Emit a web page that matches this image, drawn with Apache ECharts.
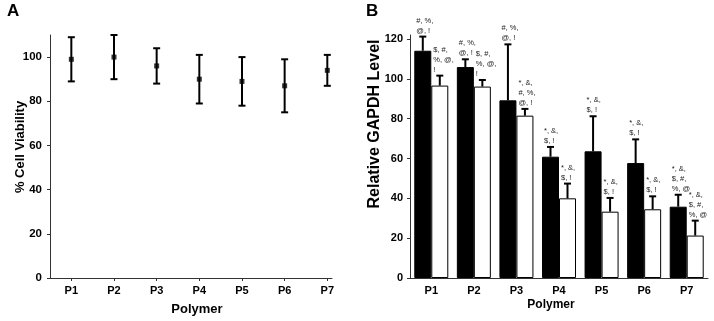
<!DOCTYPE html>
<html>
<head>
<meta charset="utf-8">
<script src="https://cdn.jsdelivr.net/npm/echarts@6/dist/echarts.min.js"></script>
<style>
  html, body { margin: 0; padding: 0; background: #fff; }
  #chart { width: 714px; height: 321px; }
</style>
</head>
<body>
<div id="chart"></div>
<script>
const FONT = '"Liberation Sans", Arial, sans-serif'

const polymers = ['P1', 'P2', 'P3', 'P4', 'P5', 'P6', 'P7']

// A: % cell viability, mean with lower / upper error limits
const viabilityMean = [99, 100, 96, 90, 89, 87, 94]
const viabilityLow = [89, 90, 88, 79, 78, 75, 87]
const viabilityHigh = [109, 110, 104, 101, 100, 99, 101]
const viabilityTicks = [0, 20, 40, 60, 80, 100]

// B: relative GAPDH level, black and white bars with upper error limits
const gapdhBlack = [114.1, 105.9, 89.2, 60.9, 63.6, 57.7, 35.8]
const gapdhBlackErr = [121.2, 109.8, 117.3, 65.8, 81.2, 69.6, 41.8]
const gapdhWhite = [96.6, 96.1, 81.5, 40.0, 33.3, 34.5, 21.3]
const gapdhWhiteErr = [101.6, 99.4, 84.9, 47.4, 40.2, 41.0, 28.8]
const gapdhTicks = [0, 20, 40, 60, 80, 100, 120]

// significance marks above each bar
const blackMarks = ['#, %,\n@, !', '#, %,\n@, !', '#, %,\n@, !', '*, &,\n$, !', '*, &,\n$, !', '*, &,\n$, !', '*, &,\n$, #,\n%, @']
const whiteMarks = ['$, #,\n%, @,\n!', '$, #,\n%, @,\n!', '*, &,\n#, %,\n@, !', '*, &,\n$, !', '*, &,\n$, !', '*, &,\n$, !', '*, &,\n$, #,\n%, @']

const BAR_W = 17

const chart = echarts.init(document.getElementById('chart'), null, { renderer: 'canvas' })

const axisLine = { lineStyle: { color: '#333', width: 1 } }
const labelStyle = { color: '#000', fontFamily: FONT, fontWeight: 'bold', fontSize: 11 }

/**
 * 误差线 (A 图): 竖线 + 上下横帽
 */
const viabilityErrors = {
  type: 'custom',
  xAxisIndex: 0,
  yAxisIndex: 0,
  clip: false,
  z: 3,
  data: polymers.map((p, i) => [i + 1, viabilityLow[i], viabilityHigh[i]]),
  renderItem: (params, api) => {
    const lo = api.coord([api.value(0), api.value(1)])
    const hi = api.coord([api.value(0), api.value(2)])
    const st = { stroke: '#000', lineWidth: 2 }
    return {
      type: 'group',
      children: [
        { type: 'line', shape: { x1: lo[0], y1: lo[1], x2: hi[0], y2: hi[1] }, style: st },
        { type: 'line', shape: { x1: lo[0] - 3.5, y1: lo[1], x2: lo[0] + 3.5, y2: lo[1] }, style: st },
        { type: 'line', shape: { x1: hi[0] - 3.5, y1: hi[1], x2: hi[0] + 3.5, y2: hi[1] }, style: st }
      ]
    }
  }
}

/**
 * B 图: 向上的误差线和标注文字
 */
const barErrors = (values, errs, marks, offset) => ({
  type: 'custom',
  xAxisIndex: 1,
  yAxisIndex: 1,
  clip: false,
  z: 5,
  data: polymers.map((p, i) => [i, values[i], errs[i]]),
  renderItem: (params, api) => {
    const base = api.coord([api.value(0), api.value(1)])
    const top = api.coord([api.value(0), api.value(2)])
    const x = base[0] + offset
    const st = { stroke: '#000', lineWidth: 2 }
    return {
      type: 'group',
      children: [
        { type: 'line', shape: { x1: x, y1: base[1], x2: x, y2: top[1] }, style: st },
        { type: 'line', shape: { x1: x - 3.5, y1: top[1], x2: x + 3.5, y2: top[1] }, style: st },
        {
          type: 'text',
          style: {
            text: marks[params.dataIndex],
            x: x - BAR_W / 2 + 2,
            y: top[1] - 1,
            align: 'left',
            verticalAlign: 'bottom',
            fontSize: 7.5,
            lineHeight: 10,
            fontFamily: FONT,
            fill: '#222'
          }
        }
      ]
    }
  }
})

const option = {
  animation: false,
  backgroundColor: '#fff',
  grid: [
    { left: 50, top: 35, width: 282, height: 243 },
    { left: 410, top: 35, width: 298, height: 243 }
  ],
  xAxis: [
    {
      gridIndex: 0,
      type: 'value',
      min: 0.5,
      max: 7.11,
      splitLine: { show: false },
      axisLine: { ...axisLine, onZero: false },
      axisTick: { show: true, length: 3, lineStyle: { color: '#333' }, customValues: polymers.map((p, i) => i + 1) },
      axisLabel: { ...labelStyle, margin: 7, customValues: polymers.map((p, i) => i + 1), formatter: v => polymers[v - 1] }
    },
    {
      gridIndex: 1,
      type: 'category',
      data: polymers,
      axisLine: axisLine,
      axisTick: { show: false },
      axisLabel: { ...labelStyle, margin: 7 }
    }
  ],
  yAxis: [
    {
      gridIndex: 0,
      type: 'value',
      min: 0,
      max: 110,
      splitLine: { show: false },
      axisLine: { show: true, ...axisLine },
      axisTick: { show: true, length: 3, lineStyle: { color: '#333' }, customValues: viabilityTicks },
      axisLabel: { ...labelStyle, fontSize: 11.5, margin: 8, customValues: viabilityTicks }
    },
    {
      gridIndex: 1,
      type: 'value',
      min: 0,
      max: 122,
      splitLine: { show: false },
      axisLine: { show: true, ...axisLine },
      axisTick: { show: true, length: 3, lineStyle: { color: '#333' }, customValues: gapdhTicks },
      axisLabel: { ...labelStyle, margin: 7, customValues: gapdhTicks }
    }
  ],
  series: [
    viabilityErrors,
    {
      type: 'scatter',
      xAxisIndex: 0,
      yAxisIndex: 0,
      symbol: 'rect',
      symbolSize: 5,
      z: 4,
      itemStyle: { color: '#000' },
      data: polymers.map((p, i) => [i + 1, viabilityMean[i]])
    },
    {
      type: 'bar',
      xAxisIndex: 1,
      yAxisIndex: 1,
      barWidth: BAR_W,
      barGap: '0%',
      itemStyle: { color: '#000', borderColor: '#000', borderWidth: 1 },
      data: gapdhBlack
    },
    {
      type: 'bar',
      xAxisIndex: 1,
      yAxisIndex: 1,
      barWidth: BAR_W,
      barGap: '0%',
      itemStyle: { color: '#fff', borderColor: '#000', borderWidth: 1 },
      data: gapdhWhite
    },
    barErrors(gapdhBlack, gapdhBlackErr, blackMarks, -BAR_W / 2),
    barErrors(gapdhWhite, gapdhWhiteErr, whiteMarks, BAR_W / 2)
  ],
  graphic: [
    { type: 'text', left: 7, top: 3, style: { text: 'A', fontSize: 17, fontWeight: 'bold', fontFamily: FONT, fill: '#000' } },
    { type: 'text', left: 366, top: 3, style: { text: 'B', fontSize: 17, fontWeight: 'bold', fontFamily: FONT, fill: '#000' } },
    {
      type: 'text', x: 20, y: 147, rotation: Math.PI / 2,
      style: { text: '% Cell Viability', align: 'center', verticalAlign: 'middle', fontSize: 13, fontWeight: 'bold', fontFamily: FONT, fill: '#000' }
    },
    {
      type: 'text', x: 197, y: 309,
      style: { text: 'Polymer', align: 'center', verticalAlign: 'middle', fontSize: 13, fontWeight: 'bold', fontFamily: FONT, fill: '#000' }
    },
    {
      type: 'text', x: 375, y: 124, rotation: Math.PI / 2,
      style: { text: 'Relative GAPDH Level', align: 'center', verticalAlign: 'middle', fontSize: 16, fontWeight: 'bold', fontFamily: FONT, fill: '#000' }
    },
    {
      type: 'text', x: 551, y: 305,
      style: { text: 'Polymer', align: 'center', verticalAlign: 'middle', fontSize: 12, fontWeight: 'bold', fontFamily: FONT, fill: '#000' }
    }
  ]
}

chart.setOption(option)
</script>
</body>
</html>
